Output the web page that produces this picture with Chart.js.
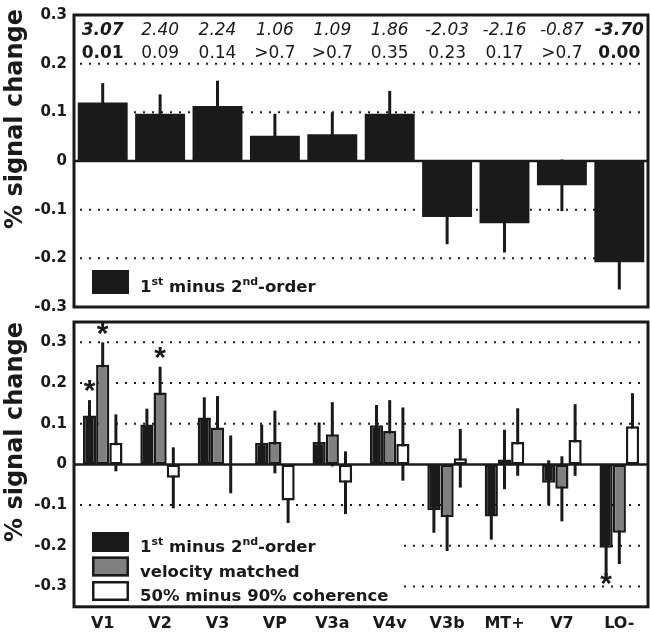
<!DOCTYPE html>
<html>
<head>
<meta charset="utf-8">
<script src="https://cdn.jsdelivr.net/npm/chart.js@4.4.0/dist/chart.umd.min.js"></script>
<style>
  body { margin: 0; background: #fff; }
  #wrap { position: relative; width: 650px; height: 643px; }
  canvas { position: absolute; left: 0; }
  #topChart { top: 0; }
  #bottomChart { top: 318px; }
</style>
</head>
<body>
<div id="wrap">
  <canvas id="topChart" width="650" height="318"></canvas>
  <canvas id="bottomChart" width="650" height="325"></canvas>
</div>
<script>
// 区域
const areas = ['V1', 'V2', 'V3', 'VP', 'V3a', 'V4v', 'V3b', 'MT+', 'V7', 'LO-'];
// 刻度
const yTicks = [-0.3, -0.2, -0.1, 0, 0.1, 0.2, 0.3];
const topGrid = [-0.2, -0.1, 0.1, 0.2];
const bottomGrid = [-0.3, -0.2, -0.1, 0.1, 0.2, 0.3];

// 上图: 1st minus 2nd-order
const topValues = [0.12, 0.097, 0.113, 0.052, 0.055, 0.097, -0.115, -0.128, -0.05, -0.208];
const topErrors = [0.04, 0.04, 0.052, 0.045, 0.045, 0.047, 0.056, 0.06, 0.053, 0.056];
// t值 / p值
const tValues = ['3.07', '2.40', '2.24', '1.06', '1.09', '1.86', '-2.03', '-2.16', '-0.87', '-3.70'];
const pValues = ['0.01', '0.09', '0.14', '>0.7', '>0.7', '0.35', '0.23', '0.17', '>0.7', '0.00'];
const boldIdx = [0, 9];

// 下图: 三组
const firstOrderValues = [0.12, 0.098, 0.115, 0.053, 0.055, 0.096, -0.113, -0.128, -0.045, -0.205];
const firstOrderErrors = [0.038, 0.039, 0.05, 0.045, 0.048, 0.05, 0.055, 0.057, 0.055, 0.072];
const velocityValues = [0.245, 0.177, 0.091, 0.055, 0.074, 0.082, -0.13, 0.012, -0.06, -0.168];
const velocityErrors = [0.055, 0.063, 0.077, 0.077, 0.079, 0.076, 0.083, 0.073, 0.08, 0.077];
const coherenceValues = [0.053, -0.033, 0, -0.089, -0.045, 0.05, 0.015, 0.055, 0.06, 0.094];
const coherenceErrors = [0.07, 0.075, 0.071, 0.055, 0.077, 0.09, 0.072, 0.083, 0.088, 0.081];

// 图例文字 ({..} 为上标)
const legendNames = ['1{st} minus 2{nd}-order', 'velocity matched', '50% minus 90% coherence'];
// 星号 (组序号, 区域, 位置)
const starMarks = [
  { ds: 0, area: 'V1', at: 0.192 },
  { ds: 1, area: 'V1', at: 0.333 },
  { ds: 1, area: 'V2', at: 0.273 },
  { ds: 0, area: 'LO-', at: -0.281 }
];

const FONT = "'DejaVu Sans', sans-serif";
const INK = '#1a1a1a';
const GRAY = '#808080';

/**
 * 带上标的文字
 */
function drawRich(ctx, text, x, y, size) {
  text.split(/(\{[^}]*\})/).forEach(part => {
    if (!part) return;
    const sup = part[0] === '{';
    const str = sup ? part.slice(1, -1) : part;
    ctx.font = 'bold ' + (sup ? Math.round(size * 0.66) : size) + 'px ' + FONT;
    ctx.fillText(str, x, sup ? y - size * 0.42 : y);
    x += ctx.measureText(str).width;
  });
}

/**
 * 网格, 零线, 误差线, 图例, 星号等
 */
const decorPlugin = {
  id: 'decor',
  beforeDatasetsDraw(chart, args, opts) {
    const ctx = chart.ctx, area = chart.chartArea, y = chart.scales.y;
    ctx.save();
    // 点线
    ctx.strokeStyle = INK;
    ctx.lineWidth = 2;
    ctx.setLineDash([2, 7]);
    opts.grid.forEach(v => {
      const py = y.getPixelForValue(v);
      ctx.beginPath();
      ctx.moveTo(area.left + 6, py);
      ctx.lineTo(area.right, py);
      ctx.stroke();
    });
    ctx.setLineDash([]);
    // 图例底色
    if (opts.legendBox) {
      const b = opts.legendBox;
      ctx.fillStyle = '#fff';
      ctx.fillRect(b[0], b[1], b[2], b[3]);
    }
    // 零线
    ctx.lineWidth = 2.5;
    const zy = y.getPixelForValue(0);
    ctx.beginPath();
    ctx.moveTo(area.left, zy);
    ctx.lineTo(area.right, zy);
    ctx.stroke();
    // 误差线
    ctx.lineWidth = 3;
    chart.data.datasets.forEach((ds, i) => {
      chart.getDatasetMeta(i).data.forEach((bar, j) => {
        const v = ds.data[j], e = ds.errors[j];
        ctx.beginPath();
        ctx.moveTo(bar.x, y.getPixelForValue(v - e));
        ctx.lineTo(bar.x, y.getPixelForValue(v + e));
        ctx.stroke();
      });
    });
    ctx.restore();
  },
  afterDraw(chart, args, opts) {
    const ctx = chart.ctx, area = chart.chartArea, x = chart.scales.x, y = chart.scales.y;
    ctx.save();
    ctx.fillStyle = INK;
    ctx.strokeStyle = INK;
    // 外框
    ctx.lineWidth = 3;
    ctx.strokeRect(area.left, area.top, area.right - area.left, area.bottom - area.top);
    // y轴标题
    ctx.save();
    ctx.translate(22, opts.titleY);
    ctx.rotate(-Math.PI / 2);
    ctx.textAlign = 'center';
    ctx.font = 'bold 24px ' + FONT;
    ctx.fillText('% signal change', 0, 0);
    ctx.restore();
    // t值 / p值
    if (opts.rows) {
      ctx.textAlign = 'center';
      areas.forEach((a, i) => {
        const px = x.getPixelForValue(i);
        const b = boldIdx.includes(i) ? 'bold ' : '';
        ctx.font = 'italic ' + b + '17px ' + FONT;
        ctx.fillText(tValues[i], px, 35);
        ctx.font = b + '17px ' + FONT;
        ctx.fillText(pValues[i], px, 58);
      });
    }
    // 图例
    ctx.textAlign = 'left';
    const lg = opts.legend;
    lg.items.forEach((item, i) => {
      const base = lg.base + i * lg.step;
      const top = base - lg.h + (lg.drop || 0);
      ctx.fillStyle = item.fill;
      ctx.fillRect(lg.x, top, lg.w, lg.h);
      ctx.lineWidth = 2.5;
      ctx.strokeRect(lg.x + 1.25, top + 1.25, lg.w - 2.5, lg.h - 2.5);
      ctx.fillStyle = INK;
      drawRich(ctx, legendNames[i], lg.x + 48, base, 16.5);
    });
    // 星号
    if (opts.stars) {
      ctx.font = 'bold 30px "Liberation Sans", sans-serif';
      ctx.textAlign = 'center';
      const m = ctx.measureText('*');
      opts.stars.forEach(s => {
        const bar = chart.getDatasetMeta(s.ds).data[areas.indexOf(s.area)];
        const cy = y.getPixelForValue(s.at);
        ctx.fillText('*', bar.x, cy + (m.actualBoundingBoxAscent - m.actualBoundingBoxDescent) / 2);
      });
    }
    ctx.restore();
  }
};

/**
 * y轴配置
 */
function yScale(min, max) {
  return {
    min: min,
    max: max,
    afterBuildTicks: s => { s.ticks = yTicks.map(v => ({ value: v })); },
    afterFit: s => { s.width = 74; s.paddingTop = 0; s.paddingBottom = 0; },
    grid: { display: false, drawTicks: false },
    border: { display: false },
    ticks: {
      color: INK,
      padding: 7,
      font: { family: FONT, size: 15, weight: 'bold' },
      callback: v => (v === 0 ? '0' : v.toFixed(1))
    }
  };
}

// 上图
new Chart(document.getElementById('topChart'), {
  type: 'bar',
  data: {
    labels: areas,
    datasets: [{
      label: legendNames[0],
      data: topValues,
      errors: topErrors,
      backgroundColor: INK,
      borderWidth: 0,
      barPercentage: 0.87,
      categoryPercentage: 1
    }]
  },
  options: {
    responsive: false,
    animation: false,
    layout: { padding: { top: 15, right: 2, bottom: 11, left: 0 } },
    plugins: {
      legend: { display: false },
      tooltip: { enabled: false },
      decor: {
        grid: topGrid,
        titleY: 119,
        rows: true,
        legend: { x: 92, base: 292, step: 0, w: 37, h: 24, drop: 2, items: [{ fill: INK }] }
      }
    },
    scales: {
      x: { display: false },
      y: yScale(-0.3, 0.3)
    }
  },
  plugins: [decorPlugin]
});

// 下图
const barBase = { borderColor: INK, borderWidth: 2.5, borderSkipped: false, barPercentage: 1, categoryPercentage: 0.69 };
new Chart(document.getElementById('bottomChart'), {
  type: 'bar',
  data: {
    labels: areas,
    datasets: [
      Object.assign({ label: legendNames[0], data: firstOrderValues, errors: firstOrderErrors, backgroundColor: INK }, barBase),
      Object.assign({ label: legendNames[1], data: velocityValues, errors: velocityErrors, backgroundColor: GRAY }, barBase),
      Object.assign({ label: legendNames[2], data: coherenceValues, errors: coherenceErrors, backgroundColor: '#fff' }, barBase)
    ]
  },
  options: {
    responsive: false,
    animation: false,
    layout: { padding: { top: 4, right: 2, bottom: 3, left: 0 } },
    plugins: {
      legend: { display: false },
      tooltip: { enabled: false },
      decor: {
        grid: bottomGrid,
        titleY: 114,
        legendBox: [76, 210, 324, 84],
        legend: { x: 92, base: 234, step: 24.5, w: 37, h: 20, items: [{ fill: INK }, { fill: GRAY }, { fill: '#fff' }] },
        stars: starMarks
      }
    },
    scales: {
      x: {
        grid: { display: false, drawTicks: false },
        border: { display: false },
        ticks: { color: INK, padding: 7, font: { family: FONT, size: 16, weight: 'bold' } }
      },
      y: yScale(-0.35, 0.35)
    }
  },
  plugins: [decorPlugin]
});
</script>
</body>
</html>
